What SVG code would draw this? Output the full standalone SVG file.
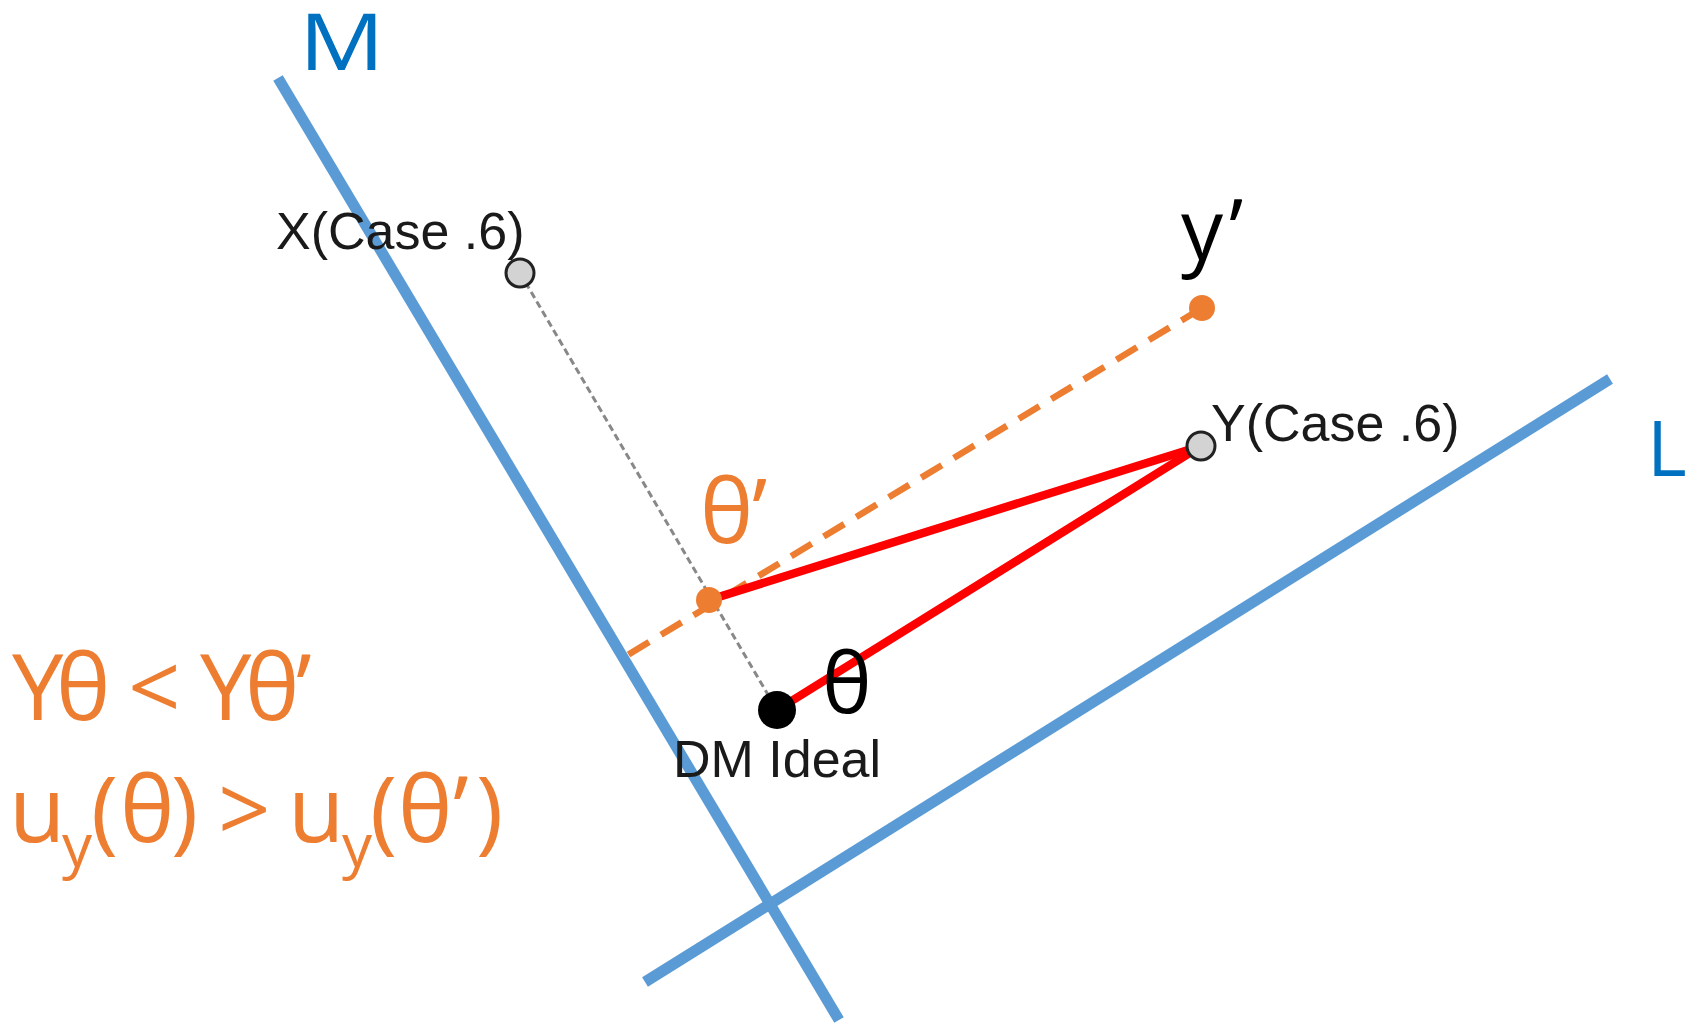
<svg xmlns="http://www.w3.org/2000/svg" width="1698" height="1026" viewBox="0 0 1698 1026">
<style>
.axis{stroke:#5B9BD5;stroke-width:11;fill:none}
.alabel{fill:#0070C0;font-family:"Open Sans",sans-serif}
.pt{fill:#D3D3D3;stroke:#222;stroke-width:3}
.plabel{fill:#1a1a1a;font-family:"Liberation Sans",Arial,sans-serif;font-size:52px}
.red{stroke:#FF0000;stroke-width:8.5;fill:none}
.orange{fill:#ED7D31;font-family:"Open Sans",sans-serif}
.big{fill:#000;font-family:"Open Sans",sans-serif}
</style>
<rect width="1698" height="1026" fill="#fff"/>
<g id="connectors">
<line class="axis" x1="278" y1="78" x2="839" y2="1020"/>
<line class="axis" x1="645" y1="982" x2="1610" y2="379"/>
<line x1="520" y1="273" x2="777" y2="710" stroke="#888" stroke-width="3" stroke-dasharray="7 4"/>
<line x1="1202" y1="308" x2="626" y2="656" stroke="#ED7D31" stroke-width="6.5" stroke-dasharray="24 14"/>
<line class="red" x1="709" y1="600" x2="1201" y2="446"/>
<line class="red" x1="777" y1="710" x2="1201" y2="446"/>
</g>
<g id="M"><text class="alabel" transform="translate(299,70) scale(1.22,1)" x="0" y="0" font-size="78">M</text></g>
<g id="L"><text class="alabel" x="1647" y="476" font-size="76">L</text></g>
<g id="X"><circle class="pt" cx="520" cy="273" r="14"/><text class="plabel" x="276" y="249">X(Case .6)</text></g>
<g id="Y"><circle class="pt" cx="1201" cy="446" r="14"/><text class="plabel" x="1211" y="441">Y(Case .6)</text></g>
<g id="DM"><circle cx="777" cy="710" r="19" fill="#000"/><text class="plabel" x="673" y="777">DM Ideal</text><text class="big" x="822" y="713" font-size="84">θ</text></g>
<g id="yprime"><circle cx="1202" cy="308" r="13" fill="#ED7D31"/><text class="big" x="1181 1229" y="260" font-size="84">y’</text></g>
<g id="thetaprime"><circle cx="709" cy="600" r="13" fill="#ED7D31"/><text class="orange" x="700 752" y="543" font-size="90">θ’</text></g>
<g id="relation">
<text class="orange" x="12 56 100 128 180 200 245 296" y="720" font-size="92">Yθ &lt; Yθ’</text>
<text class="orange" y="842" font-size="92"><tspan x="9">u</tspan><tspan x="62" dy="25" font-size="60">y</tspan><tspan x="91" dy="-25">(</tspan><tspan x="120">θ</tspan><tspan x="171">)</tspan><tspan x="218">&gt;</tspan><tspan x="288">u</tspan><tspan x="342" dy="25" font-size="60">y</tspan><tspan x="370" dy="-25">(</tspan><tspan x="398">θ</tspan><tspan x="453">’</tspan><tspan x="476">)</tspan></text>
</g>
</svg>
